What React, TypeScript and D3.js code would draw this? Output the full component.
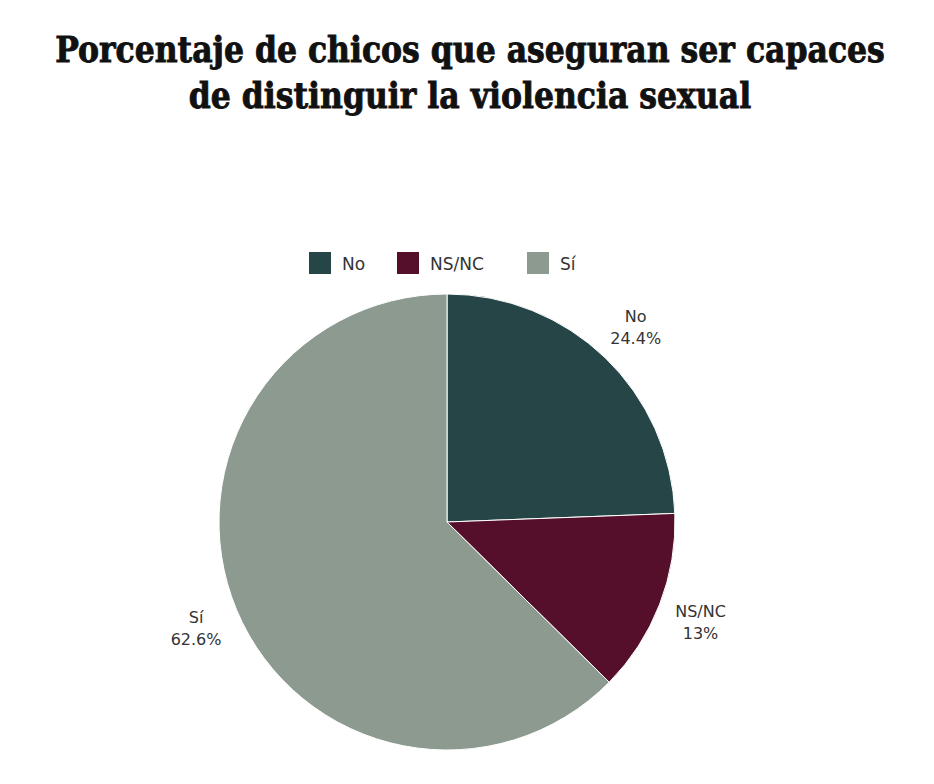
import * as d3 from 'd3'
import React from 'react'

const categories = ['No', 'NS/NC', 'Sí']
const values = [24.4, 13, 62.6]
const valueLabels = ['24.4%', '13%', '62.6%']
const colors = ['#264547', '#550f2b', '#8c9a90']

const titleLines = ['Porcentaje de chicos que aseguran ser capaces', 'de distinguir la violencia sexual']

const width = 934
const height = 784
const cx = 447
const cy = 522
const radius = 228
const labelRadius = 272

const font = "'DejaVu Sans', sans-serif"

const App = () => {
  const pie = d3
    .pie<number>()
    .sort(null)
    .value((d) => d)
  const arcs = pie(values)
  const arc = d3.arc<d3.PieArcDatum<number>>().innerRadius(0).outerRadius(radius)
  const labelArc = d3.arc<d3.PieArcDatum<number>>().innerRadius(labelRadius).outerRadius(labelRadius)

  // legend layout
  const legendX = [309, 397, 527]

  return (
    <svg width={width} height={height} style={{ position: 'absolute', left: 0, top: 0, background: '#fff' }}>
      <rect width={width} height={height} fill="#fff" />
      {titleLines.map((t, i) => (
        <text
          key={i}
          x={470}
          y={62 + i * 46}
          textAnchor="middle"
          fontFamily="'DejaVu Serif Condensed', 'DejaVu Serif', serif"
          fontWeight="bold"
          fontSize={35}
          letterSpacing={0}
          stroke="#111"
          strokeWidth={0.8}
          fill="#111"
        >
          {t}
        </text>
      ))}

      <g>
        {categories.map((c, i) => (
          <g key={c} transform={`translate(${legendX[i]},252)`}>
            <rect width={22} height={22} fill={colors[i]} />
            <text x={33} y={18} fontFamily={font} fontSize={17} fill="#333">
              {c}
            </text>
          </g>
        ))}
      </g>

      <g transform={`translate(${cx},${cy})`}>
        {arcs.map((a, i) => (
          <path key={i} d={arc(a) as string} fill={colors[i]} stroke="#fff" strokeWidth={1} />
        ))}
        {arcs.map((a, i) => {
          const [lx, ly] = labelArc.centroid(a)
          return (
            <text key={i} x={lx} y={ly} textAnchor="middle" fontFamily={font} fontSize={16} fill="#333">
              <tspan x={lx} dy={-4}>
                {categories[i]}
              </tspan>
              <tspan x={lx} dy={22}>
                {valueLabels[i]}
              </tspan>
            </text>
          )
        })}
      </g>
    </svg>
  )
}

export default App
